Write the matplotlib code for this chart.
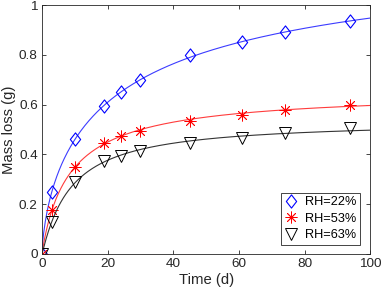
import numpy as np
import matplotlib
matplotlib.use('Agg')
import matplotlib.pyplot as plt
from matplotlib.path import Path

plt.rcParams['font.family'] = ['Liberation Sans', 'DejaVu Sans']
plt.rcParams['font.size'] = 9.7

# measured mass loss (g) vs time (d)
days = [0, 3, 10, 19, 24, 30, 45, 61, 74, 94]
rh22 = [0, 0.25, 0.46, 0.595, 0.65, 0.70, 0.80, 0.85, 0.89, 0.935]
rh53 = [0, 0.175, 0.35, 0.445, 0.475, 0.495, 0.535, 0.56, 0.58, 0.60]
rh63 = [0, 0.13, 0.29, 0.375, 0.395, 0.415, 0.445, 0.465, 0.485, 0.505]
labels = ['RH=22%', 'RH=53%', 'RH=63%']


def fit_curve(t, y, tt):
    # least squares fit of y = a*t^n/(b+t^n), grid over n
    t = np.array(t[1:], float)
    y = np.array(y[1:], float)
    best = None
    for n in np.linspace(0.4, 1.6, 121):
        p = np.polyfit(t ** -n, 1 / y, 1)
        a = 1 / p[1]
        b = p[0] * a
        err = np.sum((a * t ** n / (b + t ** n) - y) ** 2)
        if best is None or err < best[0]:
            best = (err, a, b, n)
    _, a, b, n = best
    return a * tt ** n / (b + tt ** n)


# matlab-like diamond (a bit narrower than tall)
diamond = Path([(0, 1), (0.78, 0), (0, -1), (-0.78, 0), (0, 1)],
               [Path.MOVETO, Path.LINETO, Path.LINETO, Path.LINETO, Path.CLOSEPOLY])

fig = plt.figure(figsize=(3.82, 2.98), dpi=100)
ax = fig.add_axes([0.110, 0.148, 0.859, 0.835])

tt = np.linspace(0, 100, 400)
styles = [
    dict(color='#0000ff', line='#3c3cff', marker=diamond, ms=9.5, mfc='none', mew=0.8),
    dict(color='#ff0000', line='#ff3c3c', marker=(8, 2, 0), ms=8.5, mfc='#ff0000', mew=0.6),
    dict(color='#000000', line='#333333', marker='v', ms=8.5, mfc='none', mew=0.7),
]
for y, lab, s in zip([rh22, rh53, rh63], labels, styles):
    ax.plot(tt, fit_curve(days, y, tt), '-', color=s['line'], lw=0.8)
    ax.plot(days, y, linestyle='none', marker=s['marker'], ms=s['ms'],
            mfc=s['mfc'], mec=s['color'], mew=s['mew'], label=lab)

ax.set_xlim(0, 100)
ax.set_ylim(0, 1)
ax.set_xticks([0, 20, 40, 60, 80, 100])
ax.set_yticks([0, 0.2, 0.4, 0.6, 0.8, 1])
ax.set_yticklabels(['0', '0.2', '0.4', '0.6', '0.8', '1'])
ax.tick_params(direction='in', top=True, right=True, length=3, width=0.6,
               color='#262626', labelcolor='#262626', pad=3)
for sp in ax.spines.values():
    sp.set_color('#262626')
    sp.set_linewidth(0.6)
ax.set_xlabel('Time (d)', color='#262626', labelpad=2, fontsize=10.7)
ax.set_ylabel('Mass loss (g)', color='#262626', labelpad=2, fontsize=10.7)

leg = ax.legend(loc='lower right', bbox_to_anchor=(0.97, 0.035), fancybox=False,
                edgecolor='#262626', framealpha=1, borderpad=0.3, borderaxespad=0,
                handlelength=1.0, handletextpad=0.6, labelspacing=0.35,
                fontsize=9.2)
leg.get_frame().set_linewidth(0.6)

fig.savefig('out.png', dpi=100)
